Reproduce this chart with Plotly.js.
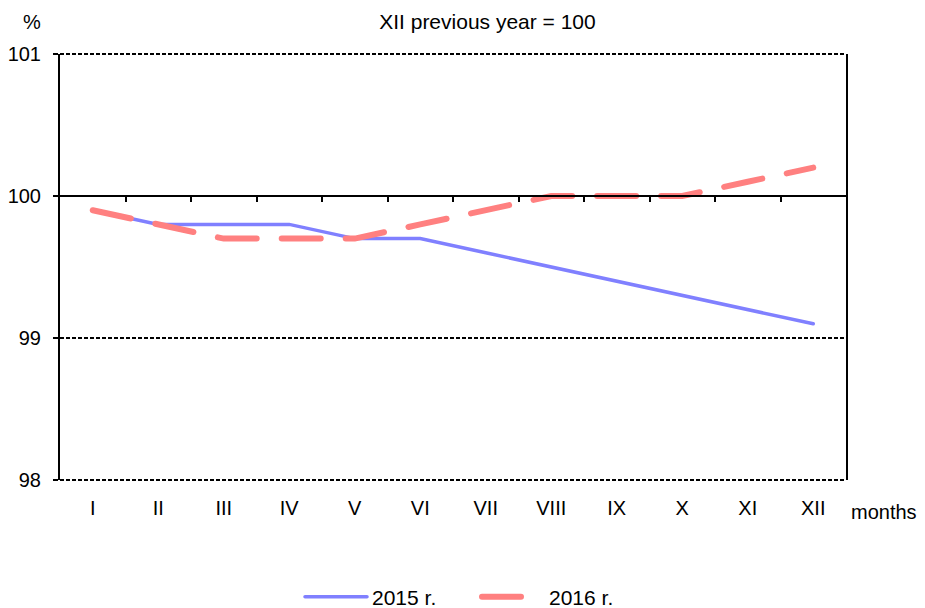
<!DOCTYPE html>
<html>
<head>
<meta charset="utf-8">
<script src="https://cdn.plot.ly/plotly-3.0.1.min.js"></script>
<style>
html,body{margin:0;padding:0;background:#fff;}
#chart{width:925px;height:608px;}
.scatterlayer .js-line{stroke-linecap:round;}
.legend .js-line{stroke-linecap:round;}
</style>
</head>
<body>
<div id="chart"></div>
<script>
const months = ["I","II","III","IV","V","VI","VII","VIII","IX","X","XI","XII"];
const values2015 = [99.9, 99.8, 99.8, 99.8, 99.7, 99.7, 99.6, 99.5, 99.4, 99.3, 99.2, 99.1];
const values2016 = [99.9, 99.8, 99.7, 99.7, 99.7, 99.8, 99.9, 100.0, 100.0, 100.0, 100.1, 100.2];
const seriesNames = ["2015 r.", "2016 r."];
const yTicks = [98, 99, 100, 101];
const baseValue = 100;

const yMin = yTicks[0], yMax = yTicks[yTicks.length - 1];
const fam = "Liberation Sans, Arial, sans-serif";
const tickFont = {family: fam, size: 20, color: "#000"};
const textFont = {family: fam, size: 21, color: "#000"};
const monthIndex = months.map((m, i) => i);
const boundaries = months.slice(1).map((m, i) => i + 0.5);

const traces = [
  {x: months, y: values2015, name: seriesNames[0], type: "scatter", mode: "lines",
   line: {color: "#8080ff", width: 3.5}, hoverinfo: "skip"},
  {x: months, y: values2016, name: seriesNames[1], type: "scatter", mode: "lines",
   line: {color: "#ff8080", width: 6, dash: "39px,25px"}, hoverinfo: "skip"},
  // invisible helper so that the base axis (at 100) is drawn
  {x: monthIndex, y: values2015, xaxis: "x2", type: "scatter", mode: "lines",
   line: {width: 0, color: "rgba(0,0,0,0)"}, showlegend: false, hoverinfo: "skip"}
];

// dashed horizontal grid lines (unclipped, so the ones on the plot edges stay full width)
const shapes = yTicks.filter(v => v !== baseValue).map(v => ({
  type: "line", xref: "paper", yref: "paper", x0: 0, x1: 1,
  y0: (v - yMin) / (yMax - yMin), y1: (v - yMin) / (yMax - yMin),
  line: {color: "#000", width: 2, dash: "4px,2px"}, layer: "below"
}));

const layout = {
  width: 925, height: 608,
  margin: {l: 60, r: 79, t: 54, b: 128, autoexpand: false},
  paper_bgcolor: "#fff", plot_bgcolor: "#fff",
  font: textFont,
  showlegend: true,
  title: {text: "XII previous year = 100", x: 0.527, xanchor: "center",
          yref: "container", y: 1 - 22 / 608, yanchor: "middle", font: textFont},
  xaxis: {
    type: "category", categoryarray: months, range: [-0.5, months.length - 0.5],
    showgrid: false, zeroline: false, showline: false,
    ticks: "", ticklabelstandoff: 14, tickfont: tickFont, fixedrange: true, automargin: false
  },
  xaxis2: {
    type: "linear", overlaying: "x", side: "bottom",
    anchor: "free", position: (baseValue - yMin) / (yMax - yMin),
    range: [-0.5, months.length - 0.5],
    tickmode: "array", tickvals: boundaries, ticks: "outside", ticklen: 5, tickwidth: 2, tickcolor: "#000",
    showticklabels: false, showgrid: false, zeroline: false,
    showline: true, linecolor: "#000", linewidth: 2, fixedrange: true, automargin: false
  },
  yaxis: {
    range: [yMin, yMax], tickvals: yTicks, ticktext: yTicks.map(String),
    showgrid: false, zeroline: false, showline: true, mirror: true, linecolor: "#000", linewidth: 2,
    ticks: "outside", ticklen: 5, tickcolor: "#000", tickwidth: 1.5, ticklabelstandoff: 8,
    tickfont: tickFont, fixedrange: true, automargin: false
  },
  shapes: shapes,
  legend: {orientation: "h", x: 300 / 925, xanchor: "left", xref: "container",
    yref: "container", y: 11 / 608, yanchor: "middle", entrywidth: 100, entrywidthmode: "pixels",
    font: textFont, itemwidth: 62, traceorder: "normal", tracegroupgap: 0},
  annotations: [
    {text: "%", xref: "paper", yref: "paper", x: -0.035, y: 1.075, xanchor: "center", yanchor: "middle",
     showarrow: false, font: tickFont},
    {text: "months", xref: "paper", yref: "paper", x: 1.004, y: -0.075, xanchor: "left", yanchor: "middle",
     showarrow: false, font: tickFont}
  ]
};

Plotly.newPlot("chart", traces, layout, {staticPlot: true, displayModeBar: false});
</script>
</body>
</html>
